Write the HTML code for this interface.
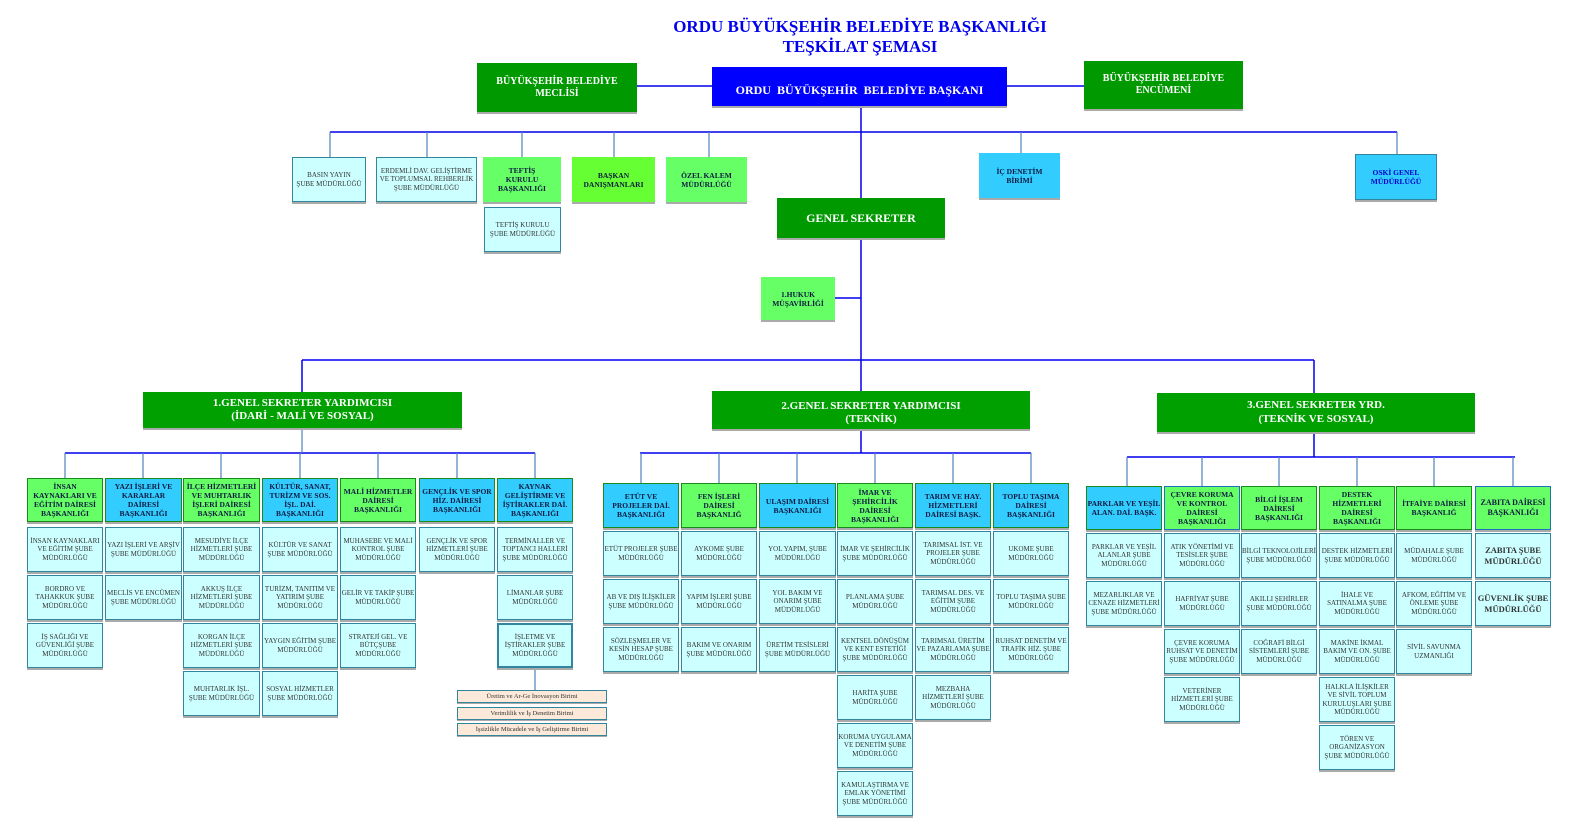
<!DOCTYPE html>
<html><head><meta charset="utf-8"><style>
body{margin:0;width:1576px;height:831px;background:#fff;position:relative;overflow:hidden;font-family:"Liberation Serif",serif}
.b{position:absolute;display:flex;align-items:center;justify-content:center;text-align:center;box-sizing:border-box;font-weight:bold;line-height:1.2;box-shadow:0 2px 0 #aaa}
.dg{background:#009900;color:#fff;font-size:10px}
.bl{background:#0000ff;color:#fff;font-size:12px}
.g{background:#66ff66;border:1.5px solid #1a8a1a;color:#0d1a40;font-size:7.5px}
.c{background:#33ccff;border:1.5px solid #1a8a1a;color:#0d1a40;font-size:7.5px}
.s{background:#ccffff;border:1.5px solid #31859c;color:#333;font-size:7px;font-weight:normal}
.p{background:#fde9d9;border:1px solid #31859c;color:#333;font-size:6.5px;font-weight:normal;box-shadow:0 1px 0 #aaa}
.t{position:absolute;left:0;width:1720px;text-align:center;color:#0000ee;font-weight:bold;font-size:17px}
</style></head><body>
<svg width="1576" height="831" style="position:absolute;left:0;top:0">
<g stroke="#0000ee" stroke-width="1.5" fill="none">
<path d="M637 86H712M1007 86H1084M861 106V392M330 132H1397M302 360H1314M302 360V392M1314 360V393M835 298H861"/>
<path d="M65 453H535M861 428V453M640 453H1031M1127 457H1515M1314 432V457"/>
</g>
<g stroke="#4f81bd" stroke-width="1.2" fill="none">
<path d="M330 132V157M427 132V157M522 132V157M614 132V157M709 132V157M1021 132V153M1397 132V154M302 428V453"/>
<path d="M65 453V478M143 453V478M221 453V478M300 453V478M378 453V478M457 453V478M535 453V478M535 668V690"/>
<path d="M641 453V483M719 453V483M797 453V483M875 453V483M953 453V483M1031 453V483"/>
<path d="M1127 457V486M1202 457V486M1279 457V486M1357 457V486M1434 457V486M1513 457V486"/>
</g></svg>
<div class="t" style="top:17px;left:0;width:1720px">ORDU BÜYÜKŞEHİR BELEDİYE BAŞKANLIĞI</div>
<div class="t" style="top:37px;left:0;width:1720px">TEŞKİLAT ŞEMASI</div>
<div class="b dg" style="left:477px;top:63px;width:160px;height:49px">BÜYÜKŞEHİR BELEDİYE<br>MECLİSİ</div>
<div class="b bl" style="left:712px;top:67px;width:295px;height:39px;padding-top:8px">ORDU &nbsp;BÜYÜKŞEHİR &nbsp;BELEDİYE BAŞKANI</div>
<div class="b dg" style="left:1084px;top:61px;width:159px;height:48px">BÜYÜKŞEHİR BELEDİYE<br>ENCÜMENİ</div>
<div class="b s" style="left:292px;top:157px;width:74px;height:45px">BASIN YAYIN<br>ŞUBE MÜDÜRLÜĞÜ</div>
<div class="b s" style="left:376px;top:157px;width:101px;height:45px">ERDEMLİ DAV. GELİŞTİRME VE TOPLUMSAL REHBERLİK ŞUBE MÜDÜRLÜĞÜ</div>
<div class="b g" style="left:483px;top:157px;width:78px;height:45px;border:none">TEFTİŞ<br>KURULU<br>BAŞKANLIĞI</div>
<div class="b g" style="left:572px;top:157px;width:83px;height:45px;border:none;background:#66ff33">BAŞKAN<br>DANIŞMANLARI</div>
<div class="b g" style="left:666px;top:157px;width:81px;height:45px;border:none">ÖZEL KALEM<br>MÜDÜRLÜĞÜ</div>
<div class="b c" style="left:979px;top:153px;width:81px;height:45px;border:none">İÇ DENETİM<br>BİRİMİ</div>
<div class="b c" style="left:1355px;top:154px;width:82px;height:46px;border:1.5px solid #31859c;color:#0000cc">OSKİ GENEL<br>MÜDÜRLÜĞÜ</div>
<div class="b s" style="left:484px;top:207px;width:77px;height:45px">TEFTİŞ KURULU<br>ŞUBE MÜDÜRLÜĞÜ</div>
<div class="b dg" style="left:777px;top:198px;width:168px;height:40px;font-size:12px">GENEL SEKRETER</div>
<div class="b g" style="left:761px;top:277px;width:74px;height:43px;border:none">1.HUKUK<br>MÜŞAVİRLİĞİ</div>
<div class="b dg" style="left:143px;top:392px;width:319px;height:36px;background:#00a000;font-size:11px">1.GENEL SEKRETER YARDIMCISI<br>(İDARİ - MALİ VE SOSYAL)</div>
<div class="b dg" style="left:712px;top:391px;width:318px;height:38px;background:#00a000;font-size:11px;padding-top:6px">2.GENEL SEKRETER YARDIMCISI<br>(TEKNİK)</div>
<div class="b dg" style="left:1157px;top:393px;width:318px;height:39px;background:#00a000;font-size:11px">3.GENEL SEKRETER YRD.<br>(TEKNİK VE SOSYAL)</div>

<div class="b g" style="left:27px;top:478px;width:76px;height:44px">İNSAN KAYNAKLARI VE EĞİTİM DAİRESİ BAŞKANLIĞI</div>
<div class="b c" style="left:105px;top:478px;width:77px;height:44px">YAZI İŞLERİ VE KARARLAR DAİRESİ BAŞKANLIĞI</div>
<div class="b g" style="left:183px;top:478px;width:77px;height:44px">İLÇE HİZMETLERİ VE MUHTARLIK İŞLERİ DAİRESİ BAŞKANLIĞI</div>
<div class="b c" style="left:262px;top:478px;width:76px;height:44px">KÜLTÜR, SANAT, TURİZM VE SOS. İŞL. DAİ. BAŞKANLIĞI</div>
<div class="b g" style="left:340px;top:478px;width:76px;height:44px">MALİ HİZMETLER DAİRESİ BAŞKANLIĞI</div>
<div class="b c" style="left:419px;top:478px;width:76px;height:44px">GENÇLİK VE SPOR HİZ. DAİRESİ BAŞKANLIĞI</div>
<div class="b c" style="left:497px;top:478px;width:76px;height:44px">KAYNAK GELİŞTİRME VE İŞTİRAKLER DAİ. BAŞKANLIĞI</div>

<div class="b s" style="left:27px;top:527px;width:76px;height:45px">İNSAN KAYNAKLARI VE EĞİTİM ŞUBE MÜDÜRLÜĞÜ</div>
<div class="b s" style="left:27px;top:575px;width:76px;height:45px">BORDRO VE TAHAKKUK ŞUBE MÜDÜRLÜĞÜ</div>
<div class="b s" style="left:27px;top:623px;width:76px;height:45px">İŞ SAĞLIĞI VE GÜVENLİĞİ ŞUBE MÜDÜRLÜĞÜ</div>
<div class="b s" style="left:105px;top:527px;width:77px;height:45px">YAZI İŞLERİ VE ARŞİV ŞUBE MÜDÜRLÜĞÜ</div>
<div class="b s" style="left:105px;top:575px;width:77px;height:45px">MECLİS VE ENCÜMEN ŞUBE MÜDÜRLÜĞÜ</div>
<div class="b s" style="left:183px;top:527px;width:77px;height:45px">MESUDİYE İLÇE HİZMETLERİ ŞUBE MÜDÜRLÜĞÜ</div>
<div class="b s" style="left:183px;top:575px;width:77px;height:45px">AKKUŞ İLÇE HİZMETLERİ ŞUBE MÜDÜRLÜĞÜ</div>
<div class="b s" style="left:183px;top:623px;width:77px;height:45px">KORGAN İLÇE HİZMETLERİ ŞUBE MÜDÜRLÜĞÜ</div>
<div class="b s" style="left:183px;top:671px;width:77px;height:45px">MUHTARLIK İŞL. ŞUBE MÜDÜRLÜĞÜ</div>
<div class="b s" style="left:262px;top:527px;width:76px;height:45px">KÜLTÜR VE SANAT ŞUBE MÜDÜRLÜĞÜ</div>
<div class="b s" style="left:262px;top:575px;width:76px;height:45px">TURİZM, TANITIM VE YATIRIM ŞUBE MÜDÜRLÜĞÜ</div>
<div class="b s" style="left:262px;top:623px;width:76px;height:45px">YAYGIN EĞİTİM ŞUBE MÜDÜRLÜĞÜ</div>
<div class="b s" style="left:262px;top:671px;width:76px;height:45px">SOSYAL HİZMETLER ŞUBE MÜDÜRLÜĞÜ</div>
<div class="b s" style="left:340px;top:527px;width:76px;height:45px">MUHASEBE VE MALİ KONTROL ŞUBE MÜDÜRLÜĞÜ</div>
<div class="b s" style="left:340px;top:575px;width:76px;height:45px">GELİR VE TAKİP ŞUBE MÜDÜRLÜĞÜ</div>
<div class="b s" style="left:340px;top:623px;width:76px;height:45px">STRATEJİ GEL. VE BÜTÇŞUBE MÜDÜRLÜĞÜ</div>
<div class="b s" style="left:419px;top:527px;width:76px;height:45px">GENÇLİK VE SPOR HİZMETLERİ ŞUBE MÜDÜRLÜĞÜ</div>
<div class="b s" style="left:497px;top:527px;width:76px;height:45px">TERMİNALLER VE TOPTANCI HALLERİ ŞUBE MÜDÜRLÜĞÜ</div>
<div class="b s" style="left:497px;top:575px;width:76px;height:45px">LİMANLAR ŞUBE MÜDÜRLÜĞÜ</div>
<div class="b s" style="left:497px;top:623px;width:76px;height:45px;border:2.5px solid #31859c">İŞLETME VE İŞTİRAKLER ŞUBE MÜDÜRLÜĞÜ</div>
<div class="b p" style="left:457px;top:690px;width:150px;height:13px">Üretim ve Ar-Ge İnovasyon Birimi</div>
<div class="b p" style="left:457px;top:707px;width:150px;height:13px">Verimlilik ve İş Denetim Birimi</div>
<div class="b p" style="left:457px;top:723px;width:150px;height:13px">İşsizlikle Mücadele ve İş Geliştirme Birimi</div>

<div class="b c" style="left:603px;top:483px;width:76px;height:45px">ETÜT VE PROJELER DAİ. BAŞKANLIĞI</div>
<div class="b g" style="left:681px;top:483px;width:76px;height:45px">FEN İŞLERİ DAİRESİ BAŞKANLIĞ</div>
<div class="b c" style="left:759px;top:483px;width:77px;height:45px">ULAŞIM DAİRESİ BAŞKANLIĞI</div>
<div class="b g" style="left:837px;top:483px;width:76px;height:45px">İMAR VE ŞEHİRCİLİK DAİRESİ BAŞKANLIĞI</div>
<div class="b c" style="left:915px;top:483px;width:76px;height:45px">TARIM VE HAY. HİZMETLERİ DAİRESİ BAŞK.</div>
<div class="b c" style="left:993px;top:483px;width:76px;height:45px">TOPLU TAŞIMA DAİRESİ BAŞKANLIĞI</div>

<div class="b s" style="left:603px;top:531px;width:76px;height:45px">ETÜT PROJELER ŞUBE MÜDÜRLÜĞÜ</div>
<div class="b s" style="left:603px;top:579px;width:76px;height:45px">AB VE DIŞ İLİŞKİLER ŞUBE MÜDÜRLÜĞÜ</div>
<div class="b s" style="left:603px;top:627px;width:76px;height:45px">SÖZLEŞMELER VE KESİN HESAP ŞUBE MÜDÜRLÜĞÜ</div>
<div class="b s" style="left:681px;top:531px;width:76px;height:45px">AYKOME ŞUBE MÜDÜRLÜĞÜ</div>
<div class="b s" style="left:681px;top:579px;width:76px;height:45px">YAPIM İŞLERİ ŞUBE MÜDÜRLÜĞÜ</div>
<div class="b s" style="left:681px;top:627px;width:76px;height:45px">BAKIM VE ONARIM ŞUBE MÜDÜRLÜĞÜ</div>
<div class="b s" style="left:759px;top:531px;width:77px;height:45px">YOL YAPIM, ŞUBE MÜDÜRLÜĞÜ</div>
<div class="b s" style="left:759px;top:579px;width:77px;height:45px">YOL BAKIM VE ONARIM ŞUBE MÜDÜRLÜĞÜ</div>
<div class="b s" style="left:759px;top:627px;width:77px;height:45px">ÜRETİM TESİSLERİ ŞUBE MÜDÜRLÜĞÜ</div>
<div class="b s" style="left:837px;top:531px;width:76px;height:45px">İMAR VE ŞEHİRCİLİK ŞUBE MÜDÜRLÜĞÜ</div>
<div class="b s" style="left:837px;top:579px;width:76px;height:45px">PLANLAMA ŞUBE MÜDÜRLÜĞÜ</div>
<div class="b s" style="left:837px;top:627px;width:76px;height:45px">KENTSEL DÖNÜŞÜM VE KENT ESTETİĞİ ŞUBE MÜDÜRLÜĞÜ</div>
<div class="b s" style="left:837px;top:675px;width:76px;height:45px">HARİTA ŞUBE MÜDÜRLÜĞÜ</div>
<div class="b s" style="left:837px;top:723px;width:76px;height:45px">KORUMA UYGULAMA VE DENETİM ŞUBE MÜDÜRLÜĞÜ</div>
<div class="b s" style="left:837px;top:771px;width:76px;height:45px">KAMULAŞTIRMA VE EMLAK YÖNETİMİ ŞUBE MÜDÜRLÜĞÜ</div>
<div class="b s" style="left:915px;top:531px;width:76px;height:45px">TARIMSAL İST. VE PROJELER ŞUBE MÜDÜRLÜĞÜ</div>
<div class="b s" style="left:915px;top:579px;width:76px;height:45px">TARIMSAL DES. VE EĞİTİM ŞUBE MÜDÜRLÜĞÜ</div>
<div class="b s" style="left:915px;top:627px;width:76px;height:45px">TARIMSAL ÜRETİM VE PAZARLAMA ŞUBE MÜDÜRLÜĞÜ</div>
<div class="b s" style="left:915px;top:675px;width:76px;height:45px">MEZBAHA HİZMETLERİ ŞUBE MÜDÜRLÜĞÜ</div>
<div class="b s" style="left:993px;top:531px;width:76px;height:45px">UKOME ŞUBE MÜDÜRLÜĞÜ</div>
<div class="b s" style="left:993px;top:579px;width:76px;height:45px">TOPLU TAŞIMA ŞUBE MÜDÜRLÜĞÜ</div>
<div class="b s" style="left:993px;top:627px;width:76px;height:45px">RUHSAT DENETİM VE TRAFİK HİZ. ŞUBE MÜDÜRLÜĞÜ</div>

<div class="b c" style="left:1086px;top:486px;width:76px;height:44px">PARKLAR VE YEŞİL ALAN. DAİ. BAŞK.</div>
<div class="b g" style="left:1164px;top:486px;width:76px;height:44px;border-color:#1f6fc0">ÇEVRE KORUMA VE KONTROL DAİRESİ BAŞKANLIĞI</div>
<div class="b g" style="left:1241px;top:486px;width:76px;height:44px">BİLGİ İŞLEM DAİRESİ BAŞKANLIĞI</div>
<div class="b g" style="left:1319px;top:486px;width:76px;height:44px">DESTEK HİZMETLERİ DAİRESİ BAŞKANLIĞI</div>
<div class="b g" style="left:1396px;top:486px;width:76px;height:44px">İTFAİYE DAİRESİ BAŞKANLIĞ</div>
<div class="b g" style="left:1475px;top:486px;width:76px;height:44px;border-color:#1f6fc0;font-size:8px">ZABITA DAİRESİ BAŞKANLIĞI</div>

<div class="b s" style="left:1086px;top:533px;width:76px;height:45px">PARKLAR VE YEŞİL ALANLAR ŞUBE MÜDÜRLÜĞÜ</div>
<div class="b s" style="left:1086px;top:581px;width:76px;height:45px">MEZARLIKLAR VE CENAZE HİZMETLERİ ŞUBE MÜDÜRLÜĞÜ</div>
<div class="b s" style="left:1164px;top:533px;width:76px;height:45px">ATIK YÖNETİMİ VE TESİSLER ŞUBE MÜDÜRLÜĞÜ</div>
<div class="b s" style="left:1164px;top:581px;width:76px;height:45px">HAFRİYAT ŞUBE MÜDÜRLÜĞÜ</div>
<div class="b s" style="left:1164px;top:629px;width:76px;height:45px">ÇEVRE KORUMA RUHSAT VE DENETİM ŞUBE MÜDÜRLÜĞÜ</div>
<div class="b s" style="left:1164px;top:677px;width:76px;height:45px">VETERİNER HİZMETLERİ ŞUBE MÜDÜRLÜĞÜ</div>
<div class="b s" style="left:1241px;top:533px;width:76px;height:45px">BİLGİ TEKNOLOJİLERİ ŞUBE MÜDÜRLÜĞÜ</div>
<div class="b s" style="left:1241px;top:581px;width:76px;height:45px">AKILLI ŞEHİRLER ŞUBE MÜDÜRLÜĞÜ</div>
<div class="b s" style="left:1241px;top:629px;width:76px;height:45px">COĞRAFİ BİLGİ SİSTEMLERİ ŞUBE MÜDÜRLÜĞÜ</div>
<div class="b s" style="left:1319px;top:533px;width:76px;height:45px">DESTEK HİZMETLERİ ŞUBE MÜDÜRLÜĞÜ</div>
<div class="b s" style="left:1319px;top:581px;width:76px;height:45px">İHALE VE SATINALMA ŞUBE MÜDÜRLÜĞÜ</div>
<div class="b s" style="left:1319px;top:629px;width:76px;height:45px">MAKİNE İKMAL BAKIM VE ON. ŞUBE MÜDÜRLÜĞÜ</div>
<div class="b s" style="left:1319px;top:677px;width:76px;height:45px">HALKLA İLİŞKİLER VE SİVİL TOPLUM KURULUŞLARI ŞUBE MÜDÜRLÜĞÜ</div>
<div class="b s" style="left:1319px;top:725px;width:76px;height:45px">TÖREN VE ORGANİZASYON ŞUBE MÜDÜRLÜĞÜ</div>
<div class="b s" style="left:1396px;top:533px;width:76px;height:45px">MÜDAHALE ŞUBE MÜDÜRLÜĞÜ</div>
<div class="b s" style="left:1396px;top:581px;width:76px;height:45px">AFKOM, EĞİTİM VE ÖNLEME ŞUBE MÜDÜRLÜĞÜ</div>
<div class="b s" style="left:1396px;top:629px;width:76px;height:45px">SİVİL SAVUNMA UZMANLIĞI</div>
<div class="b s" style="left:1475px;top:533px;width:76px;height:45px;font-size:8.5px;font-weight:bold">ZABITA ŞUBE MÜDÜRLÜĞÜ</div>
<div class="b s" style="left:1475px;top:581px;width:76px;height:45px;font-size:8.5px;font-weight:bold">GÜVENLİK ŞUBE MÜDÜRLÜĞÜ</div>
</body></html>
